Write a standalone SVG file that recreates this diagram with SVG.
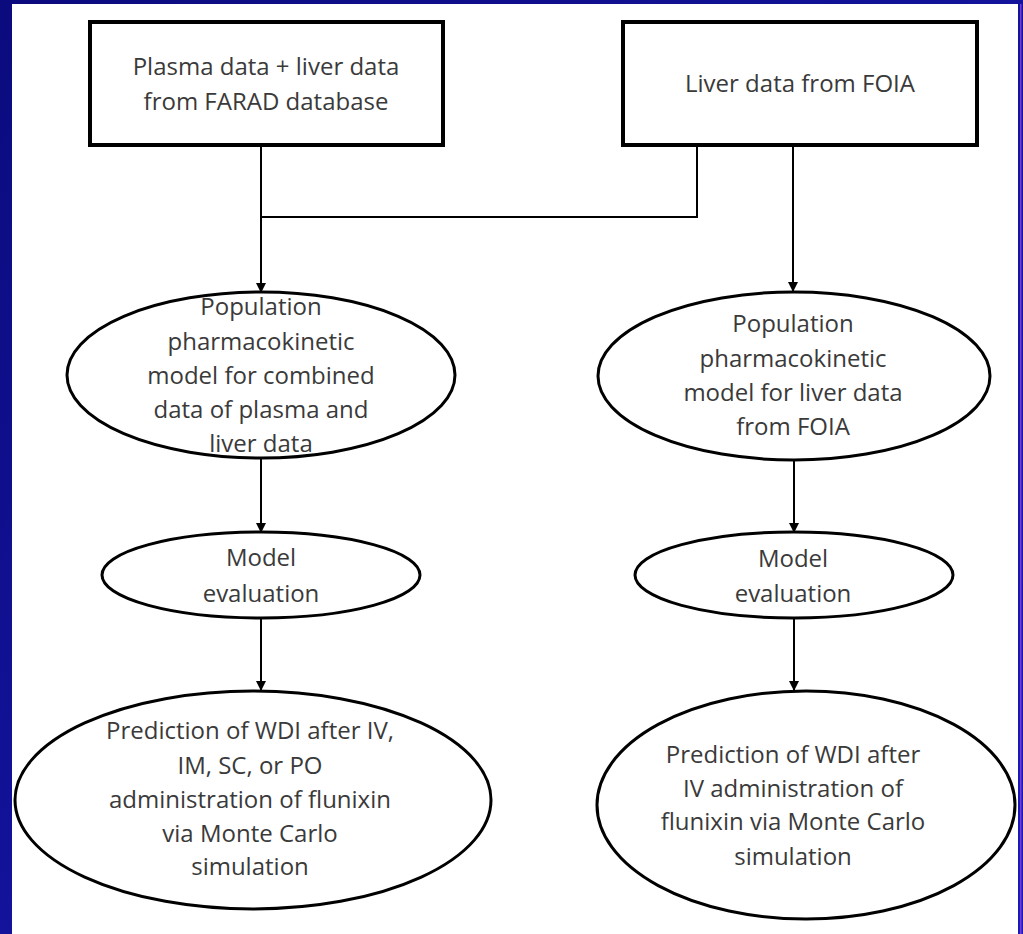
<svg xmlns="http://www.w3.org/2000/svg" width="1023" height="934" viewBox="0 0 1023 934">
  <defs>
    <linearGradient id="bg" x1="0" y1="0" x2="1" y2="1">
      <stop offset="0" stop-color="#0b0b7e"/>
      <stop offset="1" stop-color="#1a1ab8"/>
    </linearGradient>
    <marker id="arr" markerUnits="userSpaceOnUse" markerWidth="12" markerHeight="12" refX="10" refY="5" orient="auto">
      <path d="M0,0 L10,5 L0,10 z" fill="#000"/>
    </marker>
    <style>
      .box { fill: #fff; stroke: #000; stroke-width: 4; }
      .ell { fill: #fff; stroke: #000; stroke-width: 3; }
      .con { fill: none; stroke: #000; stroke-width: 2; }
      .arrow { marker-end: url(#arr); }
      text { font-family: "Open Sans", "Liberation Sans", sans-serif; font-size: 24px; fill: #3a3a3a; text-anchor: middle; }
    </style>
  </defs>

  <rect x="0" y="0" width="1023" height="934" fill="url(#bg)"/>
  <rect x="12" y="4" width="1006" height="930" fill="#fff"/>
  <rect x="1020" y="4" width="1.5" height="930" fill="#7a3ad8"/>

  <g id="connectors">
    <path class="con arrow" d="M261,147 V293"/>
    <path class="con" d="M697,147 V217 H261"/>
    <path class="con arrow" d="M793,147 V292"/>
    <path class="con arrow" d="M261,458 V533"/>
    <path class="con arrow" d="M794,460 V533"/>
    <path class="con arrow" d="M261,618 V691"/>
    <path class="con arrow" d="M794,618 V691"/>
  </g>

  <g id="box-farad">
    <rect class="box" x="90" y="22" width="353" height="123"/>
    <text x="266" y="75">Plasma data + liver data</text>
    <text x="266" y="110">from FARAD database</text>
  </g>

  <g id="box-foia">
    <rect class="box" x="623" y="22" width="354" height="123"/>
    <text x="800" y="92">Liver data from FOIA</text>
  </g>

  <g id="pop-model-combined">
    <ellipse class="ell" cx="261" cy="375" rx="194" ry="83"/>
    <text x="261" y="315">Population</text>
    <text x="261" y="350">pharmacokinetic</text>
    <text x="261" y="384">model for combined</text>
    <text x="261" y="418">data of plasma and</text>
    <text x="261" y="452">liver data</text>
  </g>

  <g id="pop-model-liver">
    <ellipse class="ell" cx="794" cy="376" rx="196" ry="84"/>
    <text x="793" y="332">Population</text>
    <text x="793" y="367">pharmacokinetic</text>
    <text x="793" y="401">model for liver data</text>
    <text x="793" y="435">from FOIA</text>
  </g>

  <g id="eval-left">
    <ellipse class="ell" cx="261" cy="575" rx="159" ry="43"/>
    <text x="261" y="566">Model</text>
    <text x="261" y="602">evaluation</text>
  </g>

  <g id="eval-right">
    <ellipse class="ell" cx="794" cy="575" rx="159" ry="43"/>
    <text x="793" y="567">Model</text>
    <text x="793" y="602">evaluation</text>
  </g>

  <g id="predict-left">
    <ellipse class="ell" cx="253" cy="800" rx="238" ry="109"/>
    <text x="250" y="739">Prediction of WDI after IV,</text>
    <text x="250" y="774">IM, SC, or PO</text>
    <text x="250" y="808">administration of flunixin</text>
    <text x="250" y="842">via Monte Carlo</text>
    <text x="250" y="875">simulation</text>
  </g>

  <g id="predict-right">
    <ellipse class="ell" cx="806" cy="805" rx="209" ry="114"/>
    <text x="793" y="763">Prediction of WDI after</text>
    <text x="793" y="797">IV administration of</text>
    <text x="793" y="830">flunixin via Monte Carlo</text>
    <text x="793" y="865">simulation</text>
  </g>
</svg>
